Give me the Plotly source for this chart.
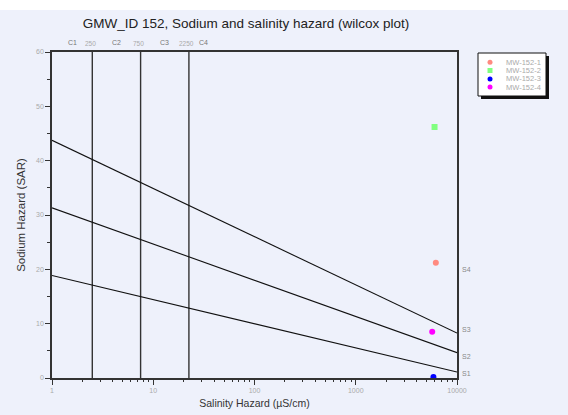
import math
import plotly.graph_objects as go

# ---- data ----
series_names = ["MW-152-1", "MW-152-2", "MW-152-3", "MW-152-4"]
series_ec = [6180, 6000, 5850, 5690]
series_sar = [21.2, 46.2, 0.2, 8.5]
series_colors = ["#ff8a80", "#80ff80", "#0000ff", "#ff00ff"]
series_symbols = ["circle", "square", "circle", "circle"]

line_x = [1, 10000]
s1_line = [18.87, 1.11]
s2_line = [31.31, 4.67]
s3_line = [43.75, 8.27]

c_bounds = [2.5, 7.5, 22.5]
c_bound_labels = ["250", "750", "2250"]
c_names = ["C1", "C2", "C3", "C4"]
c_name_x = [1.58, 4.33, 13.0, 31.0]

s_names = ["S1", "S2", "S3", "S4"]
s_name_y = [0.9, 3.9, 9.0, 19.9]

x_tickvals = [1, 10, 100, 1000, 10000]
x_ticktext = ["1", "10", "100", "1000", "10000"]
y_tickvals = [0, 10, 20, 30, 40, 50, 60]

# ---- geometry ----
W, H = 568, 415
L, R, T, B = 52, 111, 52, 37
PW, PH = W - L - R, H - T - B

def px_x(p):
    return (p - L) / PW

def px_y(p):
    return (H - B - p) / PH

BG = "#eef1fb"
fig = go.Figure()

for xb in c_bounds:
    fig.add_trace(go.Scatter(x=[xb, xb], y=[0, 60], mode="lines",
                             line=dict(color="#333333", width=1.4),
                             showlegend=False, hoverinfo="skip"))
for ln in [s1_line, s2_line, s3_line]:
    fig.add_trace(go.Scatter(x=line_x, y=ln, mode="lines",
                             line=dict(color="#111111", width=1.1),
                             showlegend=False, hoverinfo="skip"))

for n, xv, yv, c, s in zip(series_names, series_ec, series_sar, series_colors, series_symbols):
    fig.add_trace(go.Scatter(x=[xv], y=[yv], mode="markers", name=n,
                             marker=dict(color=c, size=6, symbol=s, line=dict(width=0)),
                             showlegend=False))

annotations = []
for xb, lab in zip(c_bounds, c_bound_labels):
    annotations.append(dict(x=math.log10(xb) - 0.02, y=px_y(43.5), xref="x", yref="paper",
                            text=lab, showarrow=False, font=dict(size=6.5, color="#aaaaaa"),
                            xanchor="center", yanchor="middle"))
for xn, lab in zip(c_name_x, c_names):
    annotations.append(dict(x=math.log10(xn), y=px_y(42.5), xref="x", yref="paper",
                            text=lab, showarrow=False, font=dict(size=7, color="#777777"),
                            xanchor="center", yanchor="middle"))
for yn, lab in zip(s_name_y, s_names):
    annotations.append(dict(x=px_x(466.5), y=yn, xref="paper", yref="y",
                            text=lab, showarrow=False, font=dict(size=7, color="#888888"),
                            xanchor="center", yanchor="middle"))

shapes = [
    # white band at top
    dict(type="rect", xref="paper", yref="paper", x0=px_x(-5), x1=px_x(W + 5), y0=px_y(10), y1=px_y(-5),
         fillcolor="white", line=dict(width=0), layer="below"),
    # legend shadow
    dict(type="rect", xref="paper", yref="paper", x0=px_x(481), x1=px_x(549), y0=px_y(99), y1=px_y(56),
         fillcolor="#111111", line=dict(width=0)),
    # legend box
    dict(type="rect", xref="paper", yref="paper", x0=px_x(478), x1=px_x(546), y0=px_y(96), y1=px_y(53),
         fillcolor="white", line=dict(color="#111111", width=1)),
]
leg_y = [62.3, 70.5, 79.0, 87.0]
for n, c, s, ly in zip(series_names, series_colors, series_symbols, leg_y):
    shapes.append(dict(type="circle" if s == "circle" else "rect", xref="paper", yref="paper",
                       xsizemode="pixel", ysizemode="pixel", xanchor=px_x(490), yanchor=px_y(ly),
                       x0=-2.5, x1=2.5, y0=-2.5, y1=2.5, fillcolor=c, line=dict(width=0)))
    annotations.append(dict(x=px_x(504), y=px_y(ly), xref="paper", yref="paper", text=n,
                            showarrow=False, font=dict(size=7.5, color="#aaaaaa"),
                            xanchor="left", yanchor="middle"))

fig.update_layout(
    width=W, height=H,
    margin=dict(l=L, r=R, t=T, b=B, autoexpand=False),
    paper_bgcolor=BG, plot_bgcolor=BG,
    font=dict(family="Liberation Sans, Arial, sans-serif"),
    title=dict(text="GMW_ID 152, Sodium and salinity hazard (wilcox plot)",
               x=246 / W, xref="container", xanchor="center",
               y=1 - 23.5 / H, yref="container", yanchor="middle",
               font=dict(size=13.5, color="#222222")),
    showlegend=False,
    annotations=annotations,
    shapes=shapes,
)
fig.update_xaxes(type="log", range=[0, 4], tickvals=x_tickvals, ticktext=x_ticktext,
                 automargin=False,
                 showgrid=False, zeroline=False,
                 showline=True, linecolor="#333333", linewidth=1.5, mirror=True,
                 ticks="outside", ticklen=5, tickcolor="#333333",
                 tickfont=dict(size=7, color="#aaaaaa"),
                 minor=dict(ticks="outside", ticklen=2, tickcolor="#333333", dtick="D1", showgrid=False),
                 title=dict(text="Salinity Hazard (µS/cm)", font=dict(size=10.5, color="#333333"), standoff=6))
fig.update_yaxes(range=[0, 60], tickvals=y_tickvals,
                 automargin=False,
                 showgrid=False, zeroline=False,
                 showline=True, linecolor="#333333", linewidth=1.5, mirror=True,
                 ticks="outside", ticklen=5, tickcolor="#333333",
                 tickfont=dict(size=7, color="#aaaaaa"),
                 minor=dict(ticks="outside", ticklen=3, tickcolor="#333333", dtick=5, showgrid=False),
                 title=dict(text="Sodium Hazard (SAR)", font=dict(size=11.5, color="#333333"), standoff=8))

fig.write_html("out.html", config={"displayModeBar": False},
               post_script="document.body.style.margin='0';")
